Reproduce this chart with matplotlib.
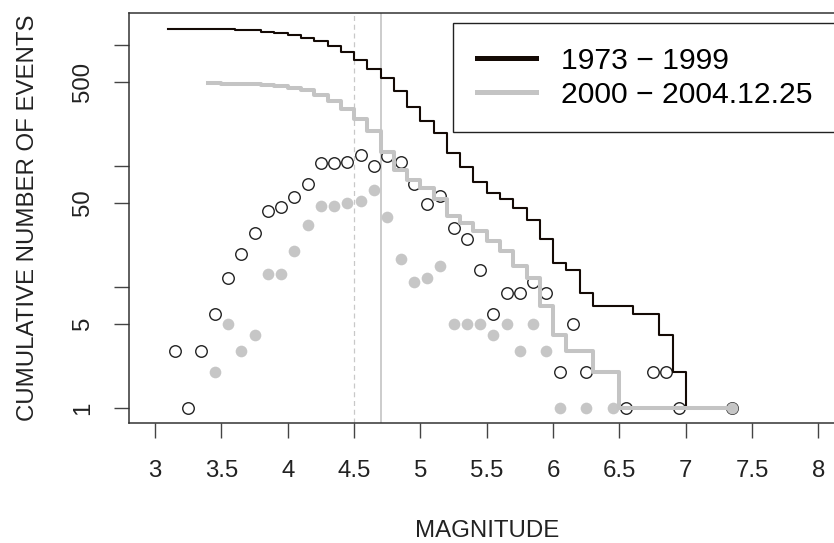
import numpy as np
import matplotlib.pyplot as plt
from matplotlib.lines import Line2D

plt.rcParams['font.family'] = ['Liberation Sans', 'DejaVu Sans']

# magnitude bins (0.1 wide), given by their centres
mag = [3.15, 3.25, 3.35, 3.45, 3.55, 3.65, 3.75, 3.85, 3.95, 4.05,
       4.15, 4.25, 4.35, 4.45, 4.55, 4.65, 4.75, 4.85, 4.95, 5.05,
       5.15, 5.25, 5.35, 5.45, 5.55, 5.65, 5.75, 5.85, 5.95, 6.05,
       6.15, 6.25, 6.35, 6.45, 6.55, 6.65, 6.75, 6.85, 6.95, 7.05,
       7.15, 7.25, 7.35]

# number of events in each bin, 1973 - 1999
n_old = [3, 1, 3, 6, 12, 19, 28, 43, 46, 56,
         71, 106, 106, 109, 124, 100, 122, 109, 72, 49,
         57, 31, 25, 14, 6, 9, 9, 11, 9, 2,
         5, 2, 0, 0, 1, 0, 2, 2, 1, 0,
         0, 0, 1]

# number of events in each bin, 2000 - 2004.12.25
n_new = [0, 0, 0, 2, 5, 3, 4, 13, 13, 20,
         33, 47, 47, 50, 52, 64, 38, 17, 11, 12,
         15, 5, 5, 5, 4, 5, 3, 5, 3, 1,
         0, 1, 0, 1, 0, 0, 0, 0, 0, 0,
         0, 0, 1]

labels = ['1973 \u2212 1999', '2000 \u2212 2004.12.25']
bin_w = 0.1


def cumulative_steps(centres, counts):
    # N(M >= lower bin edge), from the first to the last non-empty bin
    centres = np.array(centres)
    counts = np.array(counts)
    cum = np.cumsum(counts[::-1])[::-1]
    nz = np.nonzero(counts)[0]
    i0, i1 = nz[0], nz[-1]
    x = centres[i0:i1 + 1] - bin_w / 2
    y = cum[i0:i1 + 1]
    x = np.append(x, centres[i1])
    y = np.append(y, y[-1])
    return x, y


fig = plt.figure(figsize=(8.34, 5.43), dpi=100)
ax = fig.add_axes([0.15408, 0.22155, 0.8591, 0.75506])

ax.axvline(4.5, color='#c8c8c8', lw=0.9, ls=(0, (4, 3)), zorder=1)
ax.axvline(4.7, color='#c4c4c4', lw=1.2, zorder=1)

m = np.array(mag)
a = np.array(n_old)
b = np.array(n_new)
ax.plot(m[a > 0], a[a > 0], 'o', ms=8.3, mfc='white', mec='#222222', mew=1.0,
        ls='none', zorder=2)
ax.plot(m[b > 0], b[b > 0], 'o', ms=8.4, mfc='#c6c6c6', mec='none',
        ls='none', zorder=3)

x1, y1 = cumulative_steps(mag, n_old)
x2, y2 = cumulative_steps(mag, n_new)
ax.plot(x1, y1, drawstyle='steps-post', color='#140a05', lw=1.5, zorder=4)
ax.plot(x2, y2, drawstyle='steps-post', color='#c4c4c4', lw=2.9, zorder=5)

ax.set_yscale('log')
ax.set_xlim(2.8, 8.2)
ax.set_ylim(10 ** -0.119, 10 ** 3.2694)

ax.set_xticks([3, 3.5, 4, 4.5, 5, 5.5, 6, 6.5, 7, 7.5, 8])
ax.set_xticklabels(['3', '3.5', '4', '4.5', '5', '5.5', '6', '6.5', '7', '7.5', '8'])
ax.set_yticks([1, 5, 10, 50, 100, 500, 1000])
ax.set_yticklabels(['1', '5', '', '50', '', '500', ''], rotation=90, va='center')
ax.minorticks_off()

ax.tick_params(axis='both', direction='out', length=11, width=1.0,
               color='#444444', labelcolor='#222222', labelsize=17.3)
ax.tick_params(axis='x', pad=15.5)
ax.tick_params(axis='y', pad=14)

for s in ax.spines.values():
    s.set_color('#333333')
    s.set_linewidth(1.1)

ax.set_xlabel('MAGNITUDE', fontsize=17.3, color='#222222')
ax.set_ylabel('CUMULATIVE NUMBER OF EVENTS', fontsize=17.3, color='#222222')
ax.xaxis.set_label_coords(0.5, -0.2385)
ax.yaxis.set_label_coords(-0.1253, 0.5)

handles = [Line2D([], [], color='#140a05', lw=3.6),
           Line2D([], [], color='#c4c4c4', lw=3.6)]
leg = ax.legend(handles, labels, loc='upper left',
                bbox_to_anchor=(453.3 / 834, 1 - 23.3 / 543),
                bbox_transform=fig.transFigure, fontsize=21.7,
                frameon=True, fancybox=False, framealpha=1,
                edgecolor='#222222', borderpad=0.78, handlelength=1.95,
                handletextpad=0.85, labelspacing=0.2, borderaxespad=0)
leg.get_frame().set_linewidth(1.0)

fig.savefig('out.png', dpi=100)
